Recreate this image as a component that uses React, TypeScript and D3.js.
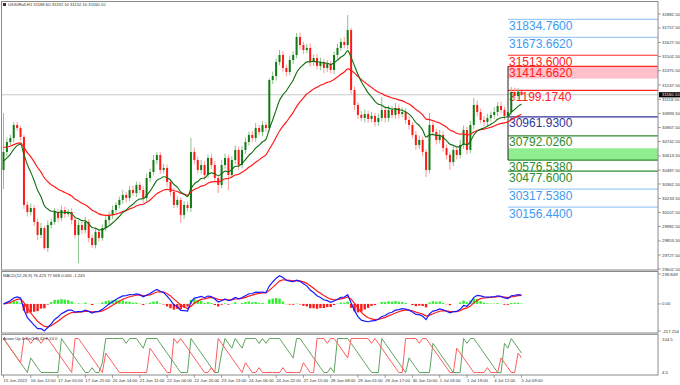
import React from 'react';
import * as d3 from 'd3';

// ---- DATA (2-hour bars) ----
const firstOpen = 30488;
const closes = [
  30649, 30738, 30774, 30890, 30863, 30783, 30175, 30112, 30148, 30023,
  29907, 29969, 29790, 29996, 30023, 30112, 30059, 30130, 30094, 30112,
  30041, 29907, 29996, 29951, 30023, 29880, 29817, 29934, 29880, 29969,
  30041, 30086, 30130, 30175, 30220, 30264, 30238, 30309, 30282, 30354,
  30309, 30238, 30416, 30470, 30577, 30622, 30488, 30506, 30381, 30291,
  30175, 30220, 30086, 30175, 30148, 30649, 30577, 30488, 30532, 30443,
  30595, 30532, 30416, 30354, 30532, 30595, 30443, 30577, 30667, 30532,
  30667, 30738, 30801, 30774, 30863, 30828, 30890, 30863, 31292, 31328,
  31453, 31516, 31400, 31364, 31471, 31516, 31677, 31605, 31561, 31579,
  31453, 31489, 31418, 31453, 31400, 31435, 31382, 31516, 31579, 31632,
  31605, 31739, 31203, 31069, 30980, 30953, 30988, 30944, 30971, 30917,
  30953, 31024, 30953, 31024, 30980, 31042, 30988, 31006, 30935, 30890,
  30801, 30711, 30756, 30649, 30488, 30890, 30828, 30756, 30801, 30684,
  30622, 30559, 30667, 30622, 30711, 30845, 30667, 30890, 31069, 31006,
  30935, 30917, 30953, 30980, 31006, 31060, 31024, 30971, 31006, 31185,
  31149, 31188.6, 31160.1,
];
const wickUp = [
  348, 40, 30, 25, 30, 20, 20, 30, 40, 25, 30, 45, 20, 40, 30, 35, 25, 40, 30, 25,
  35, 30, 40, 30, 45, 25, 30, 40, 25, 30, 35, 30, 40, 25, 30, 45, 30, 35, 40, 30,
  25, 35, 40, 30, 45, 27, 25, 35, 30, 25, 40, 30, 25, 35, 30, 125, 40, 30, 45, 35,
  30, 40, 35, 30, 45, 40, 30, 35, 40, 30, 35, 40, 30, 35, 45, 30, 35, 25, 15, 40,
  30, 45, 35, 30, 40, 35, 36, 40, 30, 35, 40, 30, 35, 40, 30, 35, 25, 30, 40, 35,
  45, 134, 20, 30, 25, 35, 40, 30, 35, 25, 40, 116, 30, 40, 35, 45, 30, 40, 35, 30,
  25, 35, 40, 30, 25, 107, 40, 30, 45, 35, 30, 25, 40, 35, 45, 40, 30, 35, 62, 40,
  30, 35, 40, 30, 45, 35, 40, 30, 35, 45, 40, 30, 3.5,
];
const wickDn = [
  170, 35, 30, 40, 25, 30, 35, 40, 30, 35, 45, 30, 17, 35, 30, 25, 40, 30, 35, 25,
  40, 30, 251, 35, 30, 40, 27, 30, 35, 25, 30, 40, 35, 25, 30, 35, 40, 30, 25, 35,
  30, 45, 30, 35, 30, 40, 35, 30, 40, 35, 30, 25, 72, 35, 30, 35, 40, 30, 35, 45,
  30, 35, 40, 72, 30, 35, 134, 30, 35, 40, 30, 35, 30, 40, 35, 30, 40, 35, 30, 35,
  40, 30, 35, 40, 30, 35, 30, 40, 35, 30, 40, 35, 30, 40, 45, 35, 30, 35, 30, 25,
  30, 35, 40, 45, 35, 30, 40, 35, 30, 40, 35, 30, 40, 35, 30, 35, 40, 30, 35, 40,
  30, 45, 35, 40, 63, 30, 35, 40, 30, 35, 40, 71, 35, 40, 30, 35, 40, 30, 35, 40,
  30, 35, 40, 30, 35, 40, 30, 35, 40, 30, 35, 30, 8,
];
const maSeedFast = 30550;
const maSeedSlow = 30693;
const maHours = [21, 50];
const macdHours = [12, 26, 9];
const aroonHours = 14;

const mainTicks = [31882.5, 31757.5, 31627.5, 31502.5, 31375.5, 31247.5, 31118.5, 30993.5, 30867.5,
  30742.5, 30613.5, 30487.5, 30362.5, 30233.5, 30107.5, 29982.5, 29853.5, 29727.5, 29602.5];
const currentPrice = 31160.1;
const macdTicks = [239.849, 0, -217.254];
const macdTickText = ['239.849', '0.00', '-217.254'];
const aroonTickText = ['104.5', '4.5'];

const timeLabels = ['15 Jun 2022', '16 Jun 12:00', '17 Jun 05:00', '17 Jun 21:00', '20 Jun 14:00',
  '21 Jun 11:00', '22 Jun 04:00', '22 Jun 20:00', '23 Jun 13:00', '24 Jun 06:00', '24 Jun 22:00',
  '27 Jun 15:00', '28 Jun 08:00', '29 Jun 01:00', '29 Jun 17:00', '30 Jun 10:00', '1 Jul 03:00',
  '1 Jul 19:00', '4 Jul 12:00', '5 Jul 09:00'];
const timeLabelStep = 8;

const levelValues = [31834.76, 31673.662, 31513.6, 31414.662, 31199.174, 30961.93, 30792.026,
  30576.538, 30477.6, 30317.538, 30156.44];
const levelKinds = ['b', 'b', 'r', 'r', 'r', 'n', 'g', 'g', 'g', 'b', 'b'];
const bandPink = [31305, 31414.662];
const bandGreen = [30576.538, 30682];

const headerText = 'US30Roll,H1  31188.60 31192.10 31152.10 31160.10';
const macdText = 'MACD(12,26,9) 76.423 77.668 0.000 -1.245';
const aroonText = 'Aroon Up & Dn(14) 42.9 14.0';

const KIND_LINE: Record<string, string> = { b: '#9fcbf5', r: '#ff2a2a', n: '#333399', g: '#2e8b2e' };
const KIND_TEXT: Record<string, string> = { b: '#3d9bf0', r: '#ff2020', n: '#333399', g: '#2e8b2e' };

const FONT = '"Liberation Sans", Arial, sans-serif';

function alphaFromHours(h: number) {
  return 1 - Math.pow(1 - 2 / (h + 1), 2);
}
function ema(vals: number[], a: number, seed?: number) {
  const out: number[] = [];
  let prev = seed === undefined ? vals[0] : seed;
  vals.forEach((v, i) => {
    prev = i === 0 && seed === undefined ? v : prev + a * (v - prev);
    out.push(prev);
  });
  return out;
}

export default function App() {
  const N = closes.length;
  const opens = closes.map((c, i) => (i === 0 ? firstOpen : closes[i - 1]));
  const highs = closes.map((c, i) => Math.max(c, opens[i]) + wickUp[i]);
  const lows = closes.map((c, i) => Math.min(c, opens[i]) - wickDn[i]);

  const x = d3.scaleLinear().domain([0, N - 1]).range([3.5, 521.5]);
  const y = d3.scaleLinear().domain([29602.5, 31882.5]).range([269, 14]);
  const my = d3.scaleLinear().domain([-217.254, 239.849]).range([331, 274]);
  const ay = d3.scaleLinear().domain([0, 100]).range([372.5, 338.5]);

  const maFast = ema(closes, alphaFromHours(maHours[0]), maSeedFast);
  const maSlow = ema(closes, alphaFromHours(maHours[1]), maSeedSlow);
  const eFast = ema(closes, alphaFromHours(macdHours[0]));
  const eSlow = ema(closes, alphaFromHours(macdHours[1]));
  const macd = eFast.map((v, i) => v - eSlow[i]);
  const signal = ema(macd, alphaFromHours(macdHours[2]));
  const hist = macd.map((v, i) => v - signal[i]);

  const P = aroonHours / 2;
  const aUp: number[] = [];
  const aDn: number[] = [];
  for (let i = 0; i < N; i++) {
    let hi = i, lo = i;
    for (let k = Math.max(0, i - P); k <= i; k++) {
      if (highs[k] >= highs[hi]) hi = k;
      if (lows[k] <= lows[lo]) lo = k;
    }
    aUp.push((100 * (P - (i - hi))) / P);
    aDn.push((100 * (P - (i - lo))) / P);
  }

  const line = (arr: number[], sy: d3.ScaleLinear<number, number>) =>
    d3.line<number>().x((_, i) => x(i)).y((d) => sy(d)).curve(d3.curveMonotoneX)(arr) || '';
  const lineStraight = (arr: number[], sy: d3.ScaleLinear<number, number>) =>
    d3.line<number>().x((_, i) => x(i)).y((d) => sy(d))(arr) || '';

  const levelX0 = 508;
  const plotR = 658;

  return (
    <svg width={680} height={385} style={{ position: 'absolute', left: 0, top: 0, background: '#fff' }}
      fontFamily={FONT}>
      <rect x={0} y={0} width={680} height={385} fill="#fff" />
      {/* bands */}
      <rect x={levelX0} y={y(bandPink[1])} width={plotR - levelX0} height={y(bandPink[0]) - y(bandPink[1])} fill="#ffc0cb" />
      <rect x={levelX0} y={y(bandGreen[1])} width={plotR - levelX0} height={y(bandGreen[0]) - y(bandGreen[1])} fill="#90ee90" />
      {/* current price line */}
      <line x1={2} x2={plotR} y1={y(currentPrice)} y2={y(currentPrice)} stroke="#c8c8c8" strokeWidth={1} />
      {/* levels */}
      {levelValues.map((v, i) => (
        <g key={'lv' + i}>
          <line x1={levelX0} x2={plotR} y1={y(v)} y2={y(v)} stroke={KIND_LINE[levelKinds[i]]} strokeWidth={1.2} />
          <text x={levelX0 + 1} y={y(v) + 10.5} fontSize={12} fill={KIND_TEXT[levelKinds[i]]}>
            {v.toFixed(4)}
          </text>
        </g>
      ))}
      <line x1={levelX0} x2={levelX0} y1={y(bandPink[1])} y2={y(bandGreen[0])} stroke="#222" strokeWidth={1} />

      {/* candles */}
      {closes.map((c, i) => {
        const bull = c >= opens[i];
        const col = bull ? '#117a11' : '#ff1a1a';
        const wcol = bull ? '#8cc48c' : '#ff9a9a';
        const top = y(Math.max(c, opens[i]));
        const bot = y(Math.min(c, opens[i]));
        return (
          <g key={'c' + i}>
            <line x1={x(i)} x2={x(i)} y1={y(highs[i])} y2={y(lows[i])} stroke={wcol} strokeWidth={1} />
            <rect x={x(i) - 1} y={top} width={2} height={Math.max(1, bot - top)} fill={col} />
          </g>
        );
      })}
      {/* moving averages */}
      <path d={line(maSlow, y)} fill="none" stroke="#ff1a1a" strokeWidth={1.2} />
      <path d={line(maFast, y)} fill="none" stroke="#0d6e0d" strokeWidth={1.1} />

      {/* header */}
      <rect x={3} y={3} width={3} height={3} fill="#333" />
      <text x={8} y={6.3} fontSize={4.2} fill="#333">{headerText}</text>

      {/* MACD panel */}
      {hist.map((h, i) => (
        <rect key={'h' + i} x={x(i) - 1.2} width={2.4}
          y={Math.min(my(0), my(h))} height={Math.abs(my(h) - my(0))}
          fill={h >= 0 ? '#2ef02e' : '#ff1a1a'} />
      ))}
      <path d={lineStraight(signal, my)} fill="none" stroke="#ff1a1a" strokeWidth={1.2} />
      <path d={lineStraight(macd, my)} fill="none" stroke="#1a1aff" strokeWidth={1.2} />
      <text x={3} y={277} fontSize={4.2} fill="#333">{macdText}</text>

      {/* Aroon panel */}
      <path d={lineStraight(aUp, ay)} fill="none" stroke="#5fa35f" strokeWidth={1} />
      <path d={lineStraight(aDn, ay)} fill="none" stroke="#ff5c5c" strokeWidth={1} />
      <text x={3} y={340} fontSize={4.2} fill="#333">{aroonText}</text>

      {/* frames */}
      <g fill="none" stroke="#8a8a8a">
        <rect x={1.5} y={1.5} width={plotR - 1.5} height={268.5} strokeWidth={1} />
        <rect x={1.5} y={271.5} width={plotR - 1.5} height={61.5} strokeWidth={1} />
        <rect x={1.5} y={334.5} width={plotR - 1.5} height={40.5} strokeWidth={1} />
      </g>
      <line x1={1.5} x2={plotR} y1={270.5} y2={270.5} stroke="#bbb" />
      <line x1={1.5} x2={plotR} y1={333.8} y2={333.8} stroke="#bbb" />

      {/* right axis main */}
      {mainTicks.map((t, i) => (
        <g key={'mt' + i}>
          <line x1={plotR} x2={plotR + 3} y1={y(t)} y2={y(t)} stroke="#666" strokeWidth={0.6} />
          <text x={plotR + 4} y={y(t)} dy="0.35em" fontSize={4.3} fill="#333">{t.toFixed(2)}</text>
        </g>
      ))}
      <rect x={plotR + 1} y={y(currentPrice) - 2.6} width={21} height={5.2} fill="#000" />
      <text x={plotR + 4} y={y(currentPrice)} dy="0.35em" fontSize={4.3} fill="#fff">{currentPrice.toFixed(2)}</text>

      {macdTicks.map((t, i) => (
        <g key={'md' + i}>
          <line x1={plotR} x2={plotR + 3} y1={my(t)} y2={my(t)} stroke="#666" strokeWidth={0.6} />
          <text x={plotR + 4} y={my(t)} dy="0.35em" fontSize={4.3} fill="#333">{macdTickText[i]}</text>
        </g>
      ))}
      {aroonTickText.map((t, i) => (
        <g key={'ar' + i}>
          <text x={plotR + 4} y={i === 0 ? ay(100) + 0.8 : ay(0) + 0.2} dy="0.35em" fontSize={4.3} fill="#333">{t}</text>
        </g>
      ))}

      {/* time axis */}
      {timeLabels.map((t, k) => {
        const xi = x(k * timeLabelStep);
        return (
          <g key={'tl' + k}>
            <line x1={xi} x2={xi} y1={375} y2={378} stroke="#666" strokeWidth={0.6} />
            <text x={xi} y={382} fontSize={4.3} fill="#333">{t}</text>
          </g>
        );
      })}
    </svg>
  );
}
